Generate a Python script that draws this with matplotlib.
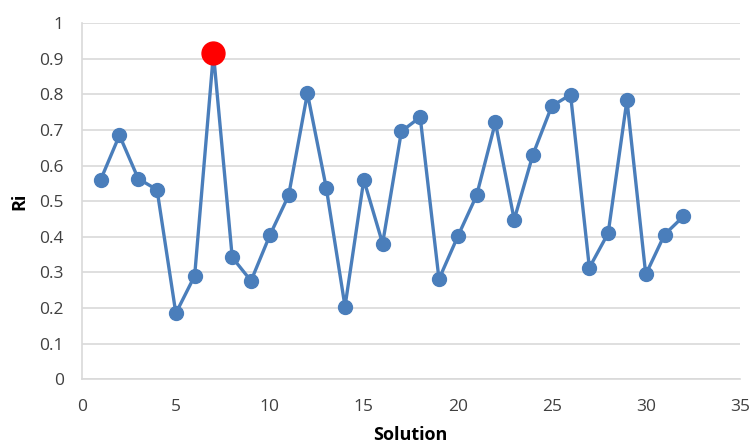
import matplotlib.pyplot as plt

solution = list(range(1, 33))
ri = [0.56, 0.685, 0.563, 0.532, 0.185, 0.29, 0.915, 0.342, 0.276, 0.404,
      0.516, 0.803, 0.538, 0.204, 0.56, 0.381, 0.696, 0.736, 0.281, 0.401,
      0.516, 0.721, 0.448, 0.631, 0.767, 0.799, 0.313, 0.41, 0.784, 0.294,
      0.406, 0.457]
best_idx = 6  # solution 7, highlighted in red

plt.rcParams['font.family'] = ['Open Sans', 'DejaVu Sans']

fig = plt.figure(figsize=(7.51, 4.45), dpi=100)
ax = fig.add_axes([0.109, 0.148, 0.876, 0.8])

ax.plot(solution, ri, color='#4A7EBB', linewidth=2.4, marker='o',
        markersize=10, zorder=3)
ax.plot(solution[best_idx], ri[best_idx], marker='o', color='#FF0000',
        markersize=16.5, linestyle='none', zorder=4)

ax.set_xlim(0, 35)
ax.set_ylim(0, 1)
ax.set_xticks(range(0, 36, 5))
ax.set_yticks([i / 10 for i in range(11)])
ax.set_yticklabels(['0', '0.1', '0.2', '0.3', '0.4', '0.5', '0.6', '0.7',
                    '0.8', '0.9', '1'])
ax.yaxis.grid(True, color='#D9D9D9', linewidth=1.2)
ax.set_axisbelow(True)

for side in ['top', 'right']:
    ax.spines[side].set_visible(False)
for side in ['left', 'bottom']:
    ax.spines[side].set_color('#D9D9D9')
    ax.spines[side].set_linewidth(1.2)

ax.tick_params(length=0, labelsize=12.5, colors='#404040')
ax.tick_params(axis='y', pad=13)
ax.tick_params(axis='x', pad=14)
ax.set_xlabel('Solution', fontsize=13, fontweight='bold', labelpad=8)
ax.set_ylabel('Ri', fontsize=13, fontweight='bold', labelpad=8)

fig.savefig('out.png', dpi=100)
